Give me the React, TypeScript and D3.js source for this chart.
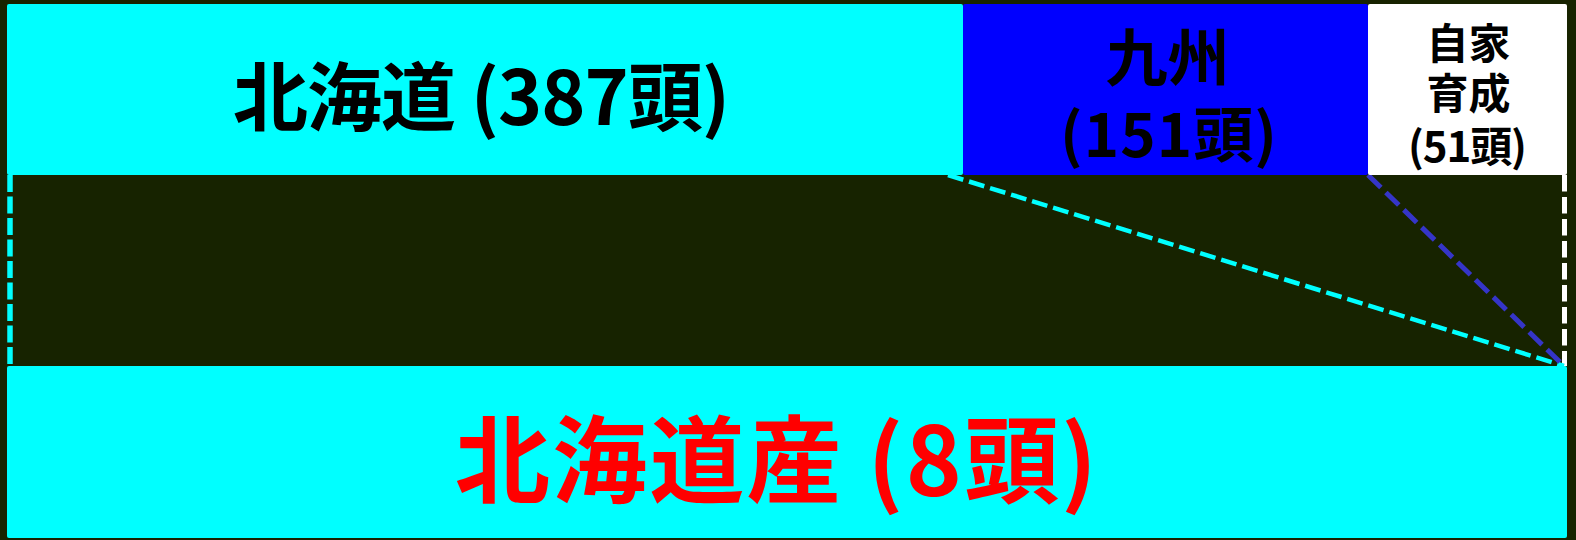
import React, { useEffect } from "react";
import * as d3 from "d3";

// ---- data ----
const topCategories = ["北海道", "九州", "自家育成"];
const topCounts = [387, 151, 51];
const bottomCategories = ["北海道産"];
const bottomCounts = [8];
const unitLabel = "頭";

// ---- styles / layout ----
const W = 1576;
const H = 540;
const BG = "#172300";
const topColors = ["#00ffff", "#0000ff", "#ffffff"];
const bottomColor = "#00ffff";
const FONT = "'Noto Sans CJK JP', 'Noto Sans', sans-serif";

export default function App() {
  useEffect(() => {
    document.body.style.margin = "0";
    document.body.style.background = BG;
  }, []);

  const cum = [0];
  topCounts.forEach((v) => cum.push(cum[cum.length - 1] + v));
  // piecewise scale of cumulative counts onto the bar
  const xTop = d3.scaleLinear().domain(cum).range([7, 963, 1368, 1567]);
  const total = d3.sum(bottomCounts);
  const xBottom = d3.scaleLinear().domain([0, total]).range([7, 1567]);

  const topY0 = 4, topY1 = 175;
  const botY0 = 366, botY1 = 538;

  const segs = topCounts.map((v, i) => ({
    cat: topCategories[i],
    count: v,
    x0: xTop(cum[i]),
    x1: xTop(cum[i + 1]),
    color: topColors[i],
  }));

  // label layouts per segment
  const labelLayouts = [
    (s: any) => [{ text: `${s.cat} (${s.count}${unitLabel})`, size: 75, y: 125, dx: -3.5, len: 497 }],
    (s: any) => [
      { text: s.cat, size: 62, y: 81, dx: 2, len: 0 },
      { text: `(${s.count}${unitLabel})`, size: 60, y: 157, dx: 3, len: 217 },
    ],
    (s: any) => [
      { text: s.cat.slice(0, 2), size: 42, y: 59, dx: 1, len: 0 },
      { text: s.cat.slice(2), size: 42, y: 109, dx: 1, len: 0 },
      { text: `(${s.count}${unitLabel})`, size: 42, y: 162, dx: 0, len: 119 },
    ],
  ];

  const botStart = xBottom(0);
  const botEnd = xBottom(total);
  const joinX = botEnd - 3;

  return (
    <svg
      width={W}
      height={H}
      style={{ position: "absolute", left: 0, top: 0, display: "block", background: BG }}
    >
      <rect x={0} y={0} width={W} height={H} fill={BG} />

      {/* connecting dashed lines */}
      <line x1={10} x2={10} y1={topY1} y2={botY0} stroke={topColors[0]} strokeWidth={5.5} strokeDasharray="17 4.5" />
      <line x1={1564.5} x2={1564.5} y1={topY1} y2={botY0} stroke={topColors[2]} strokeWidth={5} strokeDasharray="16.5 5.5" />
      <line x1={segs[0].x1 - 15} y1={topY1} x2={joinX} y2={botY0} stroke={topColors[0]} strokeWidth={4.5} strokeDasharray="16 6" />
      <line x1={segs[1].x1} y1={topY1} x2={joinX} y2={botY0} stroke="#3535c8" strokeWidth={5} strokeDasharray="18 7" />

      {/* top stacked bar */}
      {segs.map((s, i) => (
        <rect key={i} x={s.x0} y={topY0} width={s.x1 - s.x0} height={topY1 - topY0} fill={s.color} rx={2} />
      ))}

      {/* bottom bar */}
      {bottomCounts.map((v, i) => (
        <rect key={i} x={botStart} y={botY0} width={xBottom(v) - botStart} height={botY1 - botY0} fill={bottomColor} rx={2} />
      ))}

      {/* top labels: one text element per segment, lines as tspans */}
      {segs.map((s, i) => (
        <text
          key={i}
          textAnchor="middle"
          fontFamily={FONT}
          fontWeight={700}
          fill="#000000"
        >
          {labelLayouts[i](s).map((l, j) => (
            <tspan
              key={j}
              x={(s.x0 + s.x1) / 2 + l.dx}
              y={l.y}
              fontSize={l.size}
              {...(l.len ? { textLength: l.len, lengthAdjust: "spacing" } : {})}
            >
              {l.text}
            </tspan>
          ))}
        </text>
      ))}

      {/* bottom label */}
      {bottomCategories.map((c, i) => (
        <text
          key={i}
          x={776}
          y={496}
          textAnchor="middle"
          fontFamily={FONT}
          fontWeight={700}
          fontSize={95}
          fill="#ff0000"
          textLength={642}
          lengthAdjust="spacing"
        >
          {`${c} (${bottomCounts[i]}${unitLabel})`}
        </text>
      ))}
    </svg>
  );
}
